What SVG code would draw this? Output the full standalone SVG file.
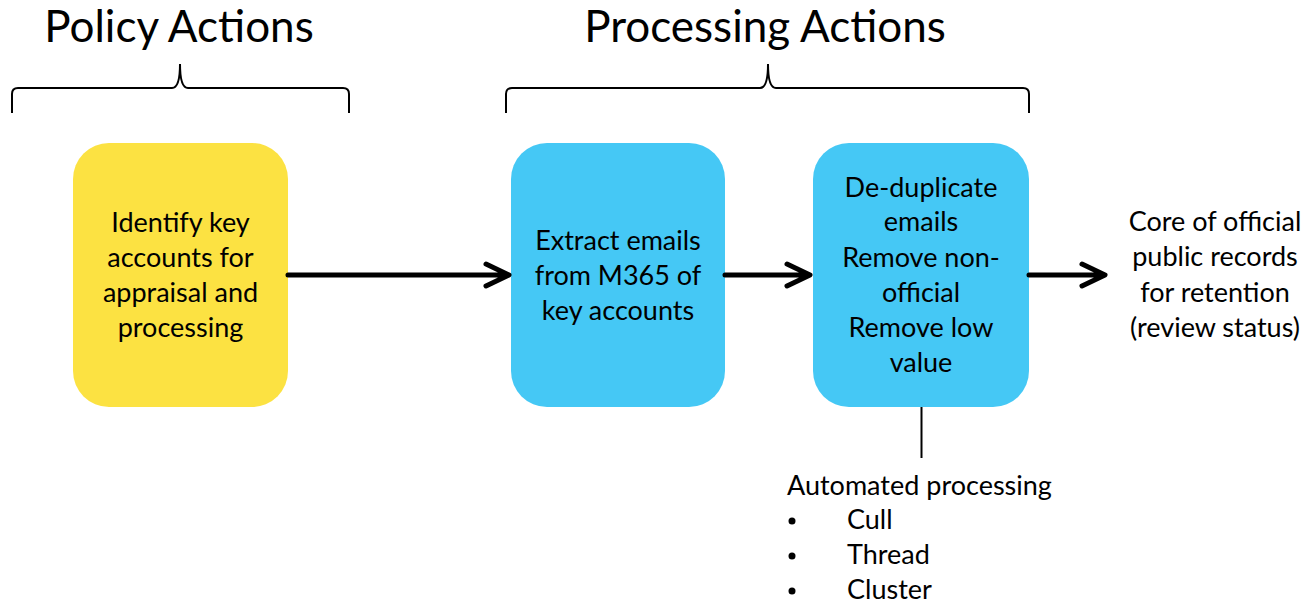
<svg xmlns="http://www.w3.org/2000/svg" width="1306" height="604" viewBox="0 0 1306 604">
<style>
  text { font-family: Lato, "Open Sans", sans-serif; fill: #000; }
  .title { font-size: 44px; text-anchor: middle; }
  .lbl { font-size: 27px; text-anchor: middle; }
  .note { font-size: 27px; }
  .brace { fill: none; stroke: #000; stroke-width: 2; }
  .arrow { fill: none; stroke: #000; stroke-width: 5; stroke-linecap: round; stroke-linejoin: round; }
  .yellow { fill: #FCE242; }
  .blue { fill: #45C8F5; }
</style>
<rect width="1306" height="604" fill="#fff"/>
<g id="titles">
  <text class="title" x="179" y="42">Policy Actions</text>
  <text class="title" x="765" y="42">Processing Actions</text>
</g>
<g id="braces">
  <path class="brace" d="M12,113 V94 Q12,88 18,88 H172 Q180,88 180,64 Q180,88 188,88 H343 Q349,88 349,94 V113"/>
  <path class="brace" d="M506,113 V94 Q506,88 512,88 H760 Q768,88 768,64 Q768,88 776,88 H1023 Q1029,88 1029,94 V113"/>
</g>
<g id="node-identify">
  <rect class="yellow" x="73" y="143" width="215" height="264" rx="36"/>
  <text class="lbl" x="180.5" y="232">Identify key</text>
  <text class="lbl" x="180.5" y="267">accounts for</text>
  <text class="lbl" x="180.5" y="302">appraisal and</text>
  <text class="lbl" x="180.5" y="337">processing</text>
</g>
<g id="node-extract">
  <rect class="blue" x="511" y="143" width="214" height="264" rx="36"/>
  <text class="lbl" x="618" y="250">Extract emails</text>
  <text class="lbl" x="618" y="285">from M365 of</text>
  <text class="lbl" x="618" y="320">key accounts</text>
</g>
<g id="node-dedup">
  <rect class="blue" x="813" y="143" width="216" height="264" rx="36"/>
  <text class="lbl" x="921" y="197">De-duplicate</text>
  <text class="lbl" x="921" y="231">emails</text>
  <text class="lbl" x="921" y="267">Remove non-</text>
  <text class="lbl" x="921" y="302">official</text>
  <text class="lbl" x="921" y="337">Remove low</text>
  <text class="lbl" x="921" y="372">value</text>
</g>
<g id="node-core">
  <text class="lbl" x="1215" y="231">Core of official</text>
  <text class="lbl" x="1215" y="266">public records</text>
  <text class="lbl" x="1215" y="302">for retention</text>
  <text class="lbl" x="1215" y="337">(review status)</text>
</g>
<g id="node-automated">
  <text class="note" x="787" y="495">Automated processing</text>
  <circle cx="792" cy="521" r="3.5"/>
  <circle cx="792" cy="556" r="3.5"/>
  <circle cx="792" cy="591" r="3.5"/>
  <text class="note" x="847" y="529">Cull</text>
  <text class="note" x="847" y="564">Thread</text>
  <text class="note" x="847" y="599">Cluster</text>
</g>
<g id="connectors">
  <path class="arrow" d="M288,275 H508 M486,264 L509,275 L486,286"/>
  <path class="arrow" d="M725,275 H809 M787,264 L810,275 L787,286"/>
  <path class="arrow" d="M1029,275 H1104 M1082,264 L1105,275 L1082,286"/>
  <line x1="921.5" y1="407" x2="921.5" y2="458" stroke="#000" stroke-width="2"/>
</g>
</svg>
